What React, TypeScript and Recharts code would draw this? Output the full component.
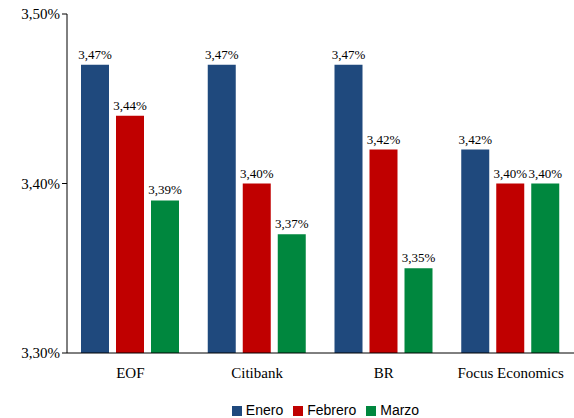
import React from "react";
import { BarChart, Bar, XAxis, YAxis, Legend, LabelList } from "recharts";

const categories = ["EOF", "Citibank", "BR", "Focus Economics"];
const enero = [3.47, 3.47, 3.47, 3.42];
const febrero = [3.44, 3.4, 3.42, 3.4];
const marzo = [3.39, 3.37, 3.35, 3.4];
const yTicks = [3.3, 3.4, 3.5];

const data = categories.map((name, i) => ({ name, Enero: enero[i], Febrero: febrero[i], Marzo: marzo[i] }));

const pct = (v: number) => v.toFixed(2).replace(".", ",") + "%";
const serif = "Liberation Serif, Times New Roman, serif";

export default function App() {
  return (
    <div style={{ position: "absolute", left: 0, top: 0 }}>
      <BarChart width={574} height={418} data={data} margin={{ top: 14, right: 0, left: 7, bottom: 15 }}
        barGap={7} barSize={28} barCategoryGap="11%">
        <XAxis dataKey="name" tickLine={false} axisLine={{ stroke: "#000" }} height={34}
          tick={{ fill: "#000", fontFamily: serif, fontSize: 15 }} tickMargin={8} />
        <YAxis domain={[3.3, 3.5]} ticks={yTicks} tickFormatter={pct} width={60} axisLine={{ stroke: "#000" }}
          tickLine={{ stroke: "#000" }} tickSize={5} tick={{ fill: "#000", fontFamily: serif, fontSize: 15 }} />
        <Legend verticalAlign="bottom" iconType="square" iconSize={10}
          wrapperStyle={{ fontFamily: "Liberation Sans, Arial, sans-serif", fontSize: 14, color: "#000", paddingLeft: 40, bottom: 0 }}
          formatter={(v: string) => <span style={{ color: "#000" }}>{v}</span>} />
        {[["Enero", "#1F497D"], ["Febrero", "#C00000"], ["Marzo", "#00873E"]].map(([k, c]) => (
          <Bar key={k} dataKey={k} fill={c} isAnimationActive={false}>
            <LabelList dataKey={k} position="top" formatter={(v: any) => pct(Number(v))}
              style={{ fill: "#000", fontFamily: serif, fontSize: 13 }} offset={6} />
          </Bar>
        ))}
      </BarChart>
    </div>
  );
}
